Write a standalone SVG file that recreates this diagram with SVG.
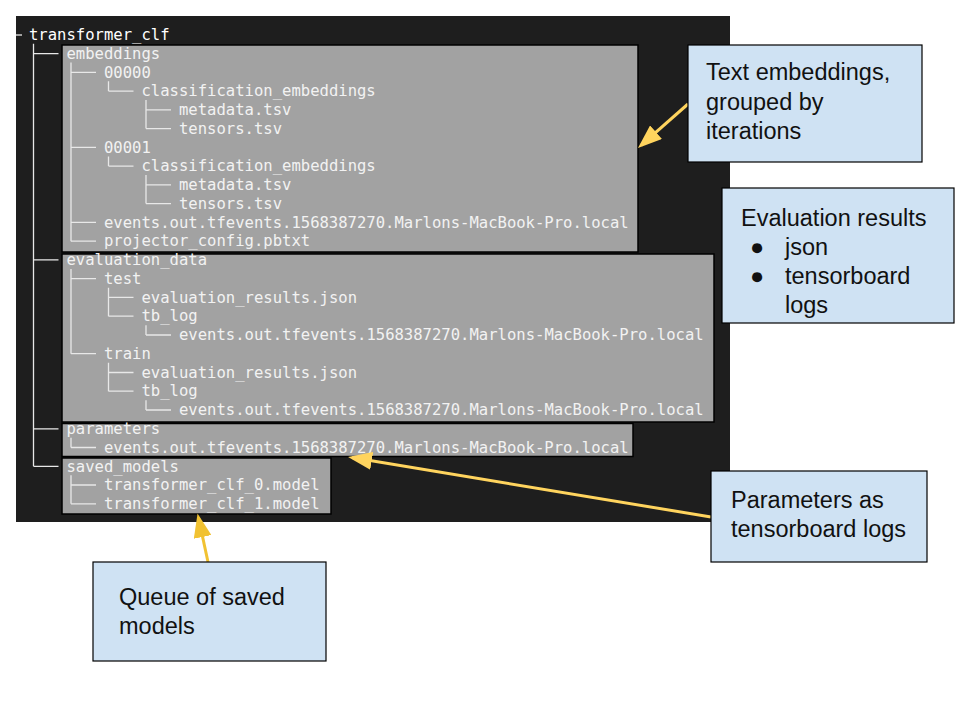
<svg xmlns="http://www.w3.org/2000/svg" width="960" height="720" viewBox="0 0 960 720">
<style>
.mono{font-family:"DejaVu Sans Mono","Liberation Mono",monospace;font-size:15.57px;fill:#f2f2f2}
.root{fill:#ffffff}
.hl{fill:#a2a2a2;stroke:#000;stroke-width:1.5}
.tree{stroke:#e8e8e8;stroke-width:1.3;fill:none}
.call{fill:#cfe2f3;stroke:#000;stroke-width:1.2}
.ct{font-family:"Liberation Sans",Arial,sans-serif;font-size:23.5px;fill:#111}
.arr{stroke:#ffd45e;stroke-width:3;fill:none;marker-end:url(#ah)}
.arr2{stroke:#f1c232;stroke-width:3;fill:none;marker-end:url(#ah2)}
</style>
<defs>
<marker id="ah" markerUnits="userSpaceOnUse" viewBox="0 0 24 18" refX="20" refY="9" markerWidth="24" markerHeight="18" orient="auto">
<path d="M0,0 L24,9 L0,18 z" fill="#ffd45e"/>
</marker>
<marker id="ah2" markerUnits="userSpaceOnUse" viewBox="0 0 24 18" refX="20" refY="9" markerWidth="24" markerHeight="18" orient="auto">
<path d="M0,0 L24,9 L0,18 z" fill="#f1c232"/>
</marker>
</defs>
<rect width="960" height="720" fill="#ffffff"/>
<rect id="terminal" x="16" y="16" width="714" height="506" fill="#1e1e1e"/>

<g id="box-embeddings"><rect class="hl" x="62" y="45" width="576" height="207"/></g>
<g id="box-evaluation"><rect class="hl" x="62" y="254" width="652" height="168"/></g>
<g id="box-parameters"><rect class="hl" x="62" y="423.5" width="571" height="33"/></g>
<g id="box-saved"><rect class="hl" x="62" y="458" width="269" height="56"/></g>

<g id="tree-lines" class="tree">
<path d="M16,35 H22"/>
<path d="M33.5,43.8 V466.3"/>
<path d="M71,62.6 V241.2 M108.5,81.3 V91.1 M146,100.1 V128.6 M108.5,156.4 V166.1 M146,175.1 V203.6"/>
<path d="M71,268.9 V353.7 M108.5,287.7 V316.2 M146,325.2 V335 M108.5,362.7 V391.2 M146,400.2 V410"/>
<path d="M71,437.8 V447.5 M71,475.3 V503.8"/>
<path d="M33.5,53.6 h25 M71,72.3 h25 M108.5,91.1 h25 M146,109.8 h25 M146,128.6 h25 M71,147.4 h25 M108.5,166.1 h25 M146,184.9 h25 M146,203.6 h25 M71,222.4 h25 M71,241.2 h25"/>
<path d="M33.5,259.9 h25 M71,278.7 h25 M108.5,297.4 h25 M108.5,316.2 h25 M146,335 h25 M71,353.7 h25 M108.5,372.5 h25 M108.5,391.2 h25 M146,410 h25"/>
<path d="M33.5,428.8 h25 M71,447.5 h25 M33.5,466.3 h25 M71,485 h25 M71,503.8 h25"/>
</g>

<g id="tree-text" class="mono">
<text class="mono root" x="29" y="40">transformer_clf</text>
<text x="66.5" y="58.8">embeddings</text>
<text x="104" y="77.5">00000</text>
<text x="141.5" y="96.3">classification_embeddings</text>
<text x="179" y="115">metadata.tsv</text>
<text x="179" y="133.8">tensors.tsv</text>
<text x="104" y="152.6">00001</text>
<text x="141.5" y="171.3">classification_embeddings</text>
<text x="179" y="190.1">metadata.tsv</text>
<text x="179" y="208.8">tensors.tsv</text>
<text x="104" y="227.6">events.out.tfevents.1568387270.Marlons-MacBook-Pro.local</text>
<text x="104" y="246.4">projector_config.pbtxt</text>
<text x="66.5" y="265.1">evaluation_data</text>
<text x="104" y="283.9">test</text>
<text x="141.5" y="302.6">evaluation_results.json</text>
<text x="141.5" y="321.4">tb_log</text>
<text x="179" y="340.2">events.out.tfevents.1568387270.Marlons-MacBook-Pro.local</text>
<text x="104" y="358.9">train</text>
<text x="141.5" y="377.7">evaluation_results.json</text>
<text x="141.5" y="396.4">tb_log</text>
<text x="179" y="415.2">events.out.tfevents.1568387270.Marlons-MacBook-Pro.local</text>
<text x="66.5" y="434">parameters</text>
<text x="104" y="452.7">events.out.tfevents.1568387270.Marlons-MacBook-Pro.local</text>
<text x="66.5" y="471.5">saved_models</text>
<text x="104" y="490.2">transformer_clf_0.model</text>
<text x="104" y="509">transformer_clf_1.model</text>
</g>

<g id="connectors">
<path class="arr" d="M688,104 L641,145.4"/>
<path class="arr" d="M711,517 L352,457.6"/>
<path class="arr2" d="M208,562 L198.4,517.4"/>
</g>

<g id="callout-embeddings">
<rect class="call" x="688" y="45" width="234" height="117"/>
<text class="ct" x="706" y="80">Text embeddings,</text>
<text class="ct" x="706" y="109.5">grouped by</text>
<text class="ct" x="706" y="139">iterations</text>
</g>
<g id="callout-evaluation">
<rect class="call" x="722" y="188" width="232" height="135"/>
<text class="ct" x="741" y="226">Evaluation results</text>
<text class="ct" x="750" y="255">●</text>
<text class="ct" x="785" y="255">json</text>
<text class="ct" x="750" y="284">●</text>
<text class="ct" x="785" y="284">tensorboard</text>
<text class="ct" x="785" y="313">logs</text>
</g>
<g id="callout-parameters">
<rect class="call" x="711" y="471" width="216" height="91"/>
<text class="ct" x="731" y="508">Parameters as</text>
<text class="ct" x="731" y="537">tensorboard logs</text>
</g>
<g id="callout-saved">
<rect class="call" x="93" y="562" width="233" height="99"/>
<text class="ct" x="119" y="605">Queue of saved</text>
<text class="ct" x="119" y="634">models</text>
</g>
</svg>
